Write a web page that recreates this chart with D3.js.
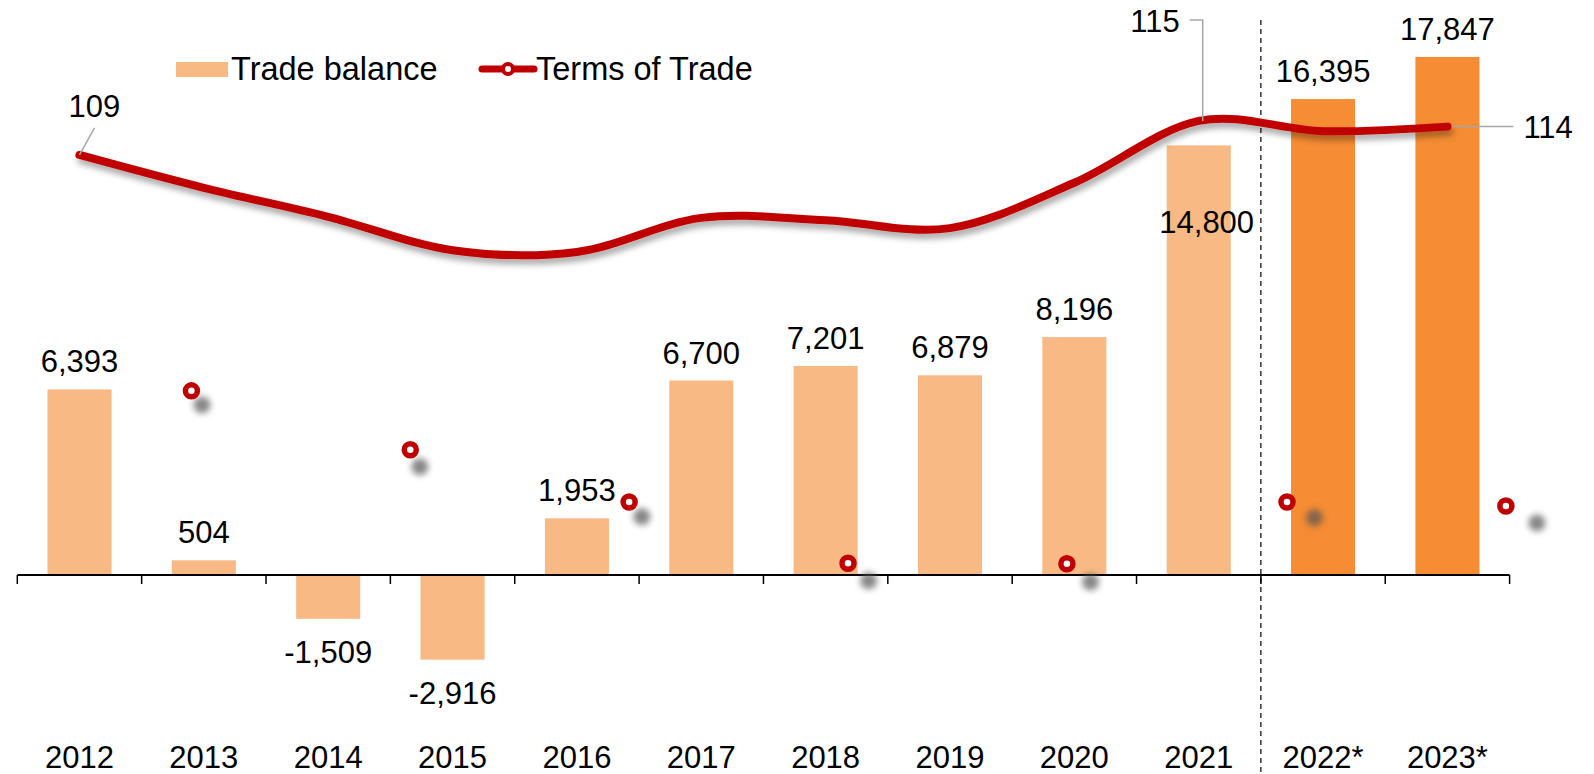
<!DOCTYPE html>
<html>
<head>
<meta charset="utf-8">
<script src="https://cdn.jsdelivr.net/npm/d3@7"></script>
<style>
  body { margin: 0; background: #fff; }
  svg { display: block; }
</style>
</head>
<body>
<div id="chart-container"></div>
<script>
const years = ['2012', '2013', '2014', '2015', '2016', '2017', '2018', '2019', '2020', '2021', '2022*', '2023*']
const tradeBalance = [6393, 504, -1509, -2916, 1953, 6700, 7201, 6879, 8196, 14800, 16395, 17847]
const termsOfTrade = [109, 103.2, 98.1, 92.2, 91.9, 97.9, 97.5, 96.1, 104.1, 115, 113.2, 114]
const forecastYears = ['2022*', '2023*']

// stray markers left floating in the original, in category units / terms-of-trade units
const ghostIndex = [0.9, 2.66, 4.42, 6.18, 7.94, 9.71, 11.47]
const ghostValue = [67.4, 57.0, 47.8, 37.0, 36.9, 47.8, 47.1]
const ghostShadowIndex = [0.985, 2.737, 4.522, 6.346, 8.13, 9.93, 11.72]
const ghostShadowValue = [64.9, 54.0, 45.2, 33.9, 33.7, 45.0, 44.1]

const width = 1594
const height = 774
const fontFamily = '"Liberation Sans", Arial, sans-serif'
const fontSize = 31
const legendFontSize = 32.5
const lightOrange = '#F9B984'
const darkOrange = '#F68C33'
const lineRed = '#C00000'

const svg = d3
  .select('#chart-container')
  .append('svg')
  .attr('width', width)
  .attr('height', height)
  .attr('viewBox', `0 0 ${width} ${height}`)
  .style('background', '#fff')
  .attr('font-family', fontFamily)
  .attr('font-size', fontSize)

const defs = svg.append('defs')
defs
  .append('filter')
  .attr('id', 'line-shadow')
  .attr('x', '-10%')
  .attr('y', '-50%')
  .attr('width', '120%')
  .attr('height', '200%')
  .append('feDropShadow')
  .attr('dx', 2)
  .attr('dy', 5)
  .attr('stdDeviation', 3)
  .attr('flood-color', '#000')
  .attr('flood-opacity', 0.35)
defs
  .append('filter')
  .attr('id', 'blur')
  .attr('x', '-100%')
  .attr('y', '-100%')
  .attr('width', '300%')
  .attr('height', '300%')
  .append('feGaussianBlur')
  .attr('stdDeviation', 3)

const x = d3
  .scaleBand()
  .domain(years)
  .range([17.3, 1509.6])
  .paddingInner(0.485)
  .paddingOuter(0.2425)

const y = d3.scaleLinear().domain([-4000, 18000]).range([691.1, 52.5])
const y2 = d3.scaleLinear().domain([80, 120]).range([319.4, 92.6])

const cx = d => x(d) + x.bandwidth() / 2
const xIdx = d3
  .scaleLinear()
  .domain([0, years.length - 1])
  .range([cx(years[0]), cx(years[years.length - 1])])

const fmt = v => d3.format(',')(v).replace('\u2212', '-')

const data = years.map((yr, i) => ({
  year: yr,
  tb: tradeBalance[i],
  tot: termsOfTrade[i],
  forecast: forecastYears.includes(yr),
}))

// bars
svg
  .append('g')
  .selectAll('rect')
  .data(data)
  .join('rect')
  .attr('x', d => x(d.year))
  .attr('width', x.bandwidth())
  .attr('y', d => y(Math.max(0, d.tb)))
  .attr('height', d => Math.abs(y(d.tb) - y(0)))
  .attr('fill', d => (d.forecast ? darkOrange : lightOrange))

// x axis
const step = x.step()
const boundaries = years.map(d => cx(d) - step / 2).concat([cx(years[years.length - 1]) + step / 2])
const axis = svg.append('g')
axis
  .append('line')
  .attr('x1', boundaries[0])
  .attr('x2', boundaries[boundaries.length - 1])
  .attr('y1', y(0))
  .attr('y2', y(0))
  .attr('stroke', '#000')
  .attr('stroke-width', 2)
axis
  .selectAll('.tick')
  .data(boundaries)
  .join('line')
  .attr('class', 'tick')
  .attr('x1', d => d)
  .attr('x2', d => d)
  .attr('y1', y(0))
  .attr('y2', y(0) + 9)
  .attr('stroke', '#000')
  .attr('stroke-width', 1.5)
axis
  .selectAll('text')
  .data(years)
  .join('text')
  .attr('x', d => cx(d))
  .attr('y', 768)
  .attr('text-anchor', 'middle')
  .attr('fill', '#000')
  .text(d => d)

// forecast divider
svg
  .append('line')
  .attr('x1', boundaries[10])
  .attr('x2', boundaries[10])
  .attr('y1', 20)
  .attr('y2', height)
  .attr('stroke', '#000')
  .attr('stroke-width', 1.2)
  .attr('stroke-dasharray', '5,4')

// bar labels (2021 sits inside its bar, as in the original)
svg
  .append('g')
  .selectAll('text')
  .data(data)
  .join('text')
  .attr('x', d => cx(d.year) + (d.year === '2021' ? 8 : 0))
  .attr('y', d => {
    if (d.year === '2021') return y(d.tb) + 88
    return d.tb >= 0 ? y(d.tb) - 17 : y(d.tb) + 44
  })
  .attr('text-anchor', 'middle')
  .attr('fill', '#000')
  .text(d => fmt(d.tb))

// ghost marker shadows and markers
svg
  .append('g')
  .selectAll('circle')
  .data(ghostShadowIndex)
  .join('circle')
  .attr('cx', d => xIdx(d))
  .attr('cy', (d, i) => y2(ghostShadowValue[i]))
  .attr('r', 8.5)
  .attr('fill', '#555')
  .attr('opacity', 0.7)
  .attr('filter', 'url(#blur)')

svg
  .append('g')
  .selectAll('circle')
  .data(ghostIndex)
  .join('circle')
  .attr('cx', d => xIdx(d))
  .attr('cy', (d, i) => y2(ghostValue[i]))
  .attr('r', 6)
  .attr('fill', '#fff')
  .attr('stroke', lineRed)
  .attr('stroke-width', 5.5)

// terms of trade line
const line = d3
  .line()
  .x(d => cx(d.year))
  .y(d => y2(d.tot))
  .curve(d3.curveCardinal.tension(0))

svg
  .append('path')
  .datum(data)
  .attr('d', line)
  .attr('fill', 'none')
  .attr('stroke', lineRed)
  .attr('stroke-width', 8)
  .attr('stroke-linecap', 'round')
  .attr('filter', 'url(#line-shadow)')

// terms of trade labels with leader lines
const first = data[0]
const peak = data[9]
const last = data[data.length - 1]
const leaders = svg.append('g').attr('stroke', '#A6A6A6').attr('stroke-width', 1.5).attr('fill', 'none')

leaders
  .append('path')
  .attr('d', `M${cx(first.year)},${y2(first.tot)}L${cx(first.year) + 15},${y2(first.tot) - 27}`)
leaders
  .append('path')
  .attr('d', `M${cx(peak.year) + 4},${y2(peak.tot)}V20H${cx(peak.year) - 9}`)
leaders
  .append('path')
  .attr('d', `M${cx(last.year) + 5},${y2(last.tot)}H${cx(last.year) + 66}`)

svg
  .append('text')
  .attr('x', cx(first.year) + 15)
  .attr('y', y2(first.tot) - 38)
  .attr('text-anchor', 'middle')
  .text(first.tot)
svg
  .append('text')
  .attr('x', cx(peak.year) - 19)
  .attr('y', 32)
  .attr('text-anchor', 'end')
  .text(peak.tot)
svg
  .append('text')
  .attr('x', cx(last.year) + 76)
  .attr('y', y2(last.tot) + 11)
  .text(last.tot)

// legend
const legend = svg.append('g').attr('font-size', legendFontSize)
legend
  .append('rect')
  .attr('x', 176)
  .attr('y', 62)
  .attr('width', 52)
  .attr('height', 15)
  .attr('fill', lightOrange)
legend.append('text').attr('x', 231).attr('y', 80).text('Trade balance')
legend
  .append('line')
  .attr('x1', 482)
  .attr('x2', 534)
  .attr('y1', 69)
  .attr('y2', 69)
  .attr('stroke', lineRed)
  .attr('stroke-width', 7)
  .attr('stroke-linecap', 'round')
legend
  .append('circle')
  .attr('cx', 508)
  .attr('cy', 69)
  .attr('r', 5)
  .attr('fill', '#fff')
  .attr('stroke', lineRed)
  .attr('stroke-width', 4)
legend.append('text').attr('x', 536).attr('y', 80).text('Terms of Trade')
</script>
</body>
</html>
